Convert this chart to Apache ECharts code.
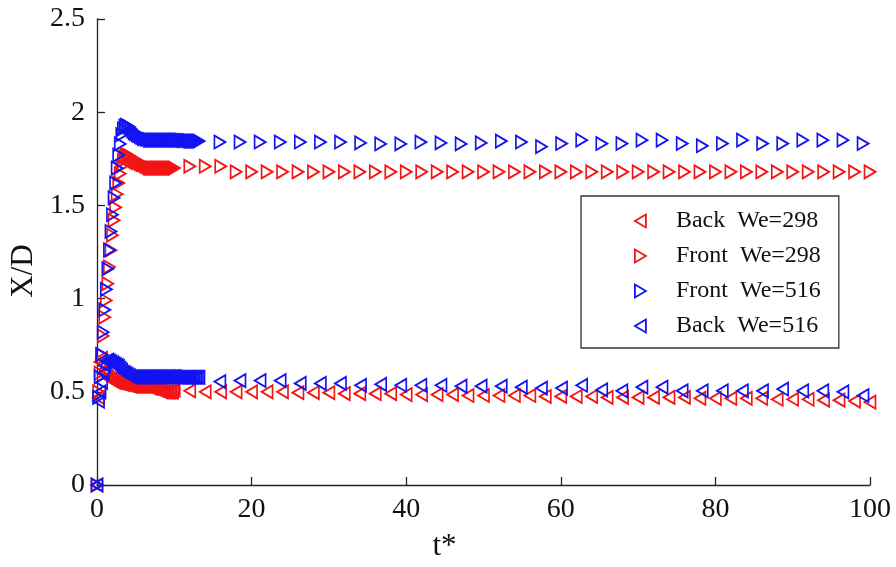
<!DOCTYPE html>
<html>
<head>
<meta charset="utf-8">
<script src="https://cdn.jsdelivr.net/npm/echarts@6/dist/echarts.min.js"></script>
<style>
  html, body { margin: 0; padding: 0; background: #fff; }
  #chart { width: 896px; height: 567px; }
</style>
</head>
<body>
<div id="chart"></div>
<script>
// Time stamps (t*) for the We=298 runs: fine sampling early, then every 2 units
const tRed = [
  0, 0.2, 0.4, 0.6, 0.8, 1, 1.2, 1.4, 1.6, 1.8, 2, 2.2, 2.4, 2.6, 2.8, 3, 3.2, 3.4, 3.6, 3.8,
  4, 4.2, 4.4, 4.6, 4.8, 5, 5.2, 5.4, 5.6, 5.8, 6, 6.2, 6.4, 6.6, 6.8, 7, 7.2, 7.4, 7.6, 7.8,
  8, 8.2, 8.4, 8.6, 8.8, 9, 9.2, 9.4, 9.6, 9.8,
  10, 12, 14, 16, 18, 20, 22, 24, 26, 28, 30, 32, 34, 36, 38, 40, 42, 44, 46, 48,
  50, 52, 54, 56, 58, 60, 62, 64, 66, 68, 70, 72, 74, 76, 78, 80, 82, 84, 86, 88,
  90, 92, 94, 96, 98, 100
];

// Back edge position, We=298
const backWe298 = [
  0, 0.47, 0.66, 0.68, 0.65, 0.62, 0.60, 0.58, 0.57, 0.565, 0.56, 0.555, 0.55, 0.55, 0.55, 0.545, 0.545, 0.54, 0.54, 0.54,
  0.535, 0.535, 0.53, 0.53, 0.53, 0.53, 0.53, 0.53, 0.53, 0.53, 0.53, 0.53, 0.53, 0.53, 0.525, 0.52, 0.52, 0.52, 0.515, 0.51,
  0.51, 0.505, 0.50, 0.50, 0.50, 0.50, 0.50, 0.50, 0.50, 0.50,
  0.51, 0.505, 0.50, 0.50, 0.50, 0.50, 0.50, 0.50, 0.495, 0.495, 0.495, 0.49, 0.49, 0.49, 0.49, 0.485, 0.485, 0.485, 0.485, 0.48,
  0.48, 0.48, 0.48, 0.48, 0.475, 0.475, 0.475, 0.475, 0.47, 0.47, 0.47, 0.47, 0.47, 0.47, 0.465, 0.465, 0.465, 0.465, 0.465, 0.46,
  0.46, 0.46, 0.455, 0.455, 0.45, 0.445
];

// Front edge position, We=298
const frontWe298 = [
  0, 0.50, 0.60, 0.70, 0.80, 0.90, 0.99, 1.08, 1.17, 1.26, 1.34, 1.42, 1.49, 1.56, 1.62, 1.67, 1.71, 1.74, 1.76, 1.77,
  1.77, 1.765, 1.76, 1.75, 1.74, 1.735, 1.73, 1.73, 1.725, 1.72, 1.72, 1.715, 1.71, 1.705, 1.70, 1.70, 1.70, 1.70, 1.70, 1.70,
  1.70, 1.70, 1.70, 1.70, 1.70, 1.70, 1.70, 1.70, 1.70, 1.70,
  1.70, 1.71, 1.71, 1.71, 1.68, 1.68, 1.68, 1.68, 1.68, 1.68, 1.68, 1.68, 1.68, 1.68, 1.68, 1.68, 1.68, 1.68, 1.68, 1.68,
  1.68, 1.68, 1.68, 1.68, 1.68, 1.68, 1.68, 1.68, 1.68, 1.68, 1.68, 1.68, 1.68, 1.68, 1.68, 1.68, 1.68, 1.68, 1.68, 1.68,
  1.68, 1.68, 1.68, 1.68, 1.68, 1.68
];

// Time stamps (t*) for the We=516 runs
const tBlue = [
  0, 0.2, 0.4, 0.6, 0.8, 1, 1.2, 1.4, 1.6, 1.8, 2, 2.2, 2.4, 2.6, 2.8, 3, 3.2, 3.4, 3.6, 3.8,
  4, 4.2, 4.4, 4.6, 4.8, 5, 5.2, 5.4, 5.6, 5.8, 6, 6.2, 6.4, 6.6, 6.8, 7, 7.2, 7.4, 7.6, 7.8,
  8, 8.2, 8.4, 8.6, 8.8, 9, 9.2, 9.4, 9.6, 9.8, 10, 10.2, 10.4, 10.6, 10.8, 11, 11.2, 11.4, 11.6, 11.8,
  12, 12.2, 12.4, 12.6, 12.8, 13, 13.2,
  15.9, 18.5, 21.1, 23.7, 26.3, 28.9, 31.5, 34.1, 36.7, 39.3, 41.9, 44.5, 47.1, 49.7, 52.3, 54.9, 57.5,
  60.1, 62.7, 65.3, 67.9, 70.5, 73.1, 75.7, 78.3, 80.9, 83.5, 86.1, 88.7, 91.3, 93.9, 96.5, 99.1
];

// Front edge position, We=516
const frontWe516 = [
  0, 0.47, 0.58, 0.70, 0.82, 0.94, 1.05, 1.16, 1.26, 1.36, 1.45, 1.54, 1.62, 1.70, 1.77, 1.83, 1.88, 1.91, 1.925, 1.93,
  1.925, 1.92, 1.91, 1.90, 1.89, 1.885, 1.88, 1.875, 1.87, 1.865, 1.86, 1.86, 1.855, 1.855, 1.85, 1.85, 1.85, 1.85, 1.85, 1.85,
  1.85, 1.85, 1.85, 1.85, 1.85, 1.85, 1.85, 1.85, 1.85, 1.85, 1.85, 1.85, 1.85, 1.85, 1.85, 1.848, 1.848, 1.848, 1.848, 1.848,
  1.845, 1.845, 1.845, 1.845, 1.845, 1.845, 1.845,
  1.84, 1.84, 1.84, 1.84, 1.84, 1.84, 1.84, 1.835, 1.83, 1.83, 1.84, 1.835, 1.83, 1.835, 1.845, 1.84, 1.815,
  1.832, 1.85, 1.832, 1.832, 1.85, 1.85, 1.832, 1.82, 1.832, 1.85, 1.832, 1.832, 1.85, 1.85, 1.85, 1.832
];

// Back edge position, We=516
const backWe516 = [
  0, 0.45, 0.50, 0.55, 0.60, 0.64, 0.665, 0.67, 0.665, 0.66, 0.655, 0.65, 0.645, 0.64, 0.635, 0.625, 0.615, 0.605, 0.60, 0.595,
  0.59, 0.585, 0.58, 0.58, 0.58, 0.58, 0.58, 0.58, 0.58, 0.58, 0.58, 0.58, 0.58, 0.58, 0.58, 0.58, 0.58, 0.58, 0.58, 0.58,
  0.58, 0.58, 0.58, 0.58, 0.58, 0.58, 0.58, 0.58, 0.58, 0.58, 0.58, 0.58, 0.578, 0.578, 0.578, 0.578, 0.578, 0.578, 0.578, 0.578,
  0.578, 0.578, 0.578, 0.578, 0.578, 0.578, 0.578,
  0.555, 0.56, 0.56, 0.56, 0.545, 0.545, 0.545, 0.535, 0.54, 0.535, 0.535, 0.535, 0.53, 0.53, 0.53, 0.525, 0.52,
  0.52, 0.535, 0.51, 0.505, 0.525, 0.525, 0.505, 0.505, 0.505, 0.505, 0.505, 0.515, 0.505, 0.505, 0.50, 0.48
];

const seriesNames = ['Back  We=298', 'Front  We=298', 'Front  We=516', 'Back  We=516'];
const xTicks = { min: 0, max: 100, step: 20 };
const yTicks = { min: 0, max: 2.5, step: 0.5 };

const RED = '#f21515';
const BLUE = '#1414f2';
const FONT = '"Liberation Serif", "Times New Roman", serif';

// Outline triangles pointing left (back edge) or right (front edge)
const ICON_LEFT = 'path://M11,0 L0,6.5 L11,13 Z';
const ICON_RIGHT = 'path://M0,0 L11,6.5 L0,13 Z';

function pairs(t, v) {
  return v.map((y, i) => [t[i], y]);
}

function outline(color) {
  return { color: 'rgba(0,0,0,0)', borderColor: color, borderWidth: 1.8, opacity: 1 };
}

function markerSeries(name, data, color, rotate) {
  return {
    name: name,
    type: 'scatter',
    data: data,
    symbol: 'triangle',
    symbolSize: [13, 11],
    symbolRotate: rotate,
    clip: false,
    itemStyle: outline(color),
    emphasis: { disabled: true },
    animation: false
  };
}

const chart = echarts.init(document.getElementById('chart'), null, { renderer: 'canvas' });

const axisCommon = {
  type: 'value',
  nameLocation: 'middle',
  axisLine: { show: true, onZero: false, lineStyle: { color: '#222', width: 1.3 } },
  axisTick: { show: true, inside: true, length: 8, lineStyle: { color: '#222', width: 1.3 } },
  axisLabel: { fontFamily: FONT, fontSize: 28, color: '#111' },
  splitLine: { show: false }
};

chart.setOption({
  backgroundColor: '#ffffff',
  animation: false,
  grid: { left: 97, right: 26, top: 19, bottom: 80, containLabel: false },
  xAxis: Object.assign({}, axisCommon, {
    min: xTicks.min, max: xTicks.max, interval: xTicks.step,
    name: 't*', nameGap: 46,
    nameTextStyle: { fontFamily: FONT, fontSize: 31, color: '#111', padding: [0, 78, 0, 0] },
    axisLabel: Object.assign({}, axisCommon.axisLabel, { margin: 11 })
  }),
  yAxis: Object.assign({}, axisCommon, {
    min: yTicks.min, max: yTicks.max, interval: yTicks.step,
    name: 'X/D', nameGap: 55,
    nameTextStyle: { fontFamily: FONT, fontSize: 31, color: '#111', padding: [0, 38, 0, 0] },
    axisLabel: Object.assign({}, axisCommon.axisLabel, { margin: 12 })
  }),
  legend: {
    orient: 'vertical',
    left: 581,
    top: 196,
    padding: [13, 18, 10, 53],
    itemWidth: 11,
    itemHeight: 13,
    itemGap: 11,
    symbolRotate: 0,
    borderColor: '#333',
    borderWidth: 1.3,
    backgroundColor: '#fff',
    selectedMode: false,
    textStyle: { fontFamily: FONT, fontSize: 24, color: '#111', padding: [0, 0, 0, 25] },
    data: [
      { name: seriesNames[0], icon: ICON_LEFT, itemStyle: outline(RED) },
      { name: seriesNames[1], icon: ICON_RIGHT, itemStyle: outline(RED) },
      { name: seriesNames[2], icon: ICON_RIGHT, itemStyle: outline(BLUE) },
      { name: seriesNames[3], icon: ICON_LEFT, itemStyle: outline(BLUE) }
    ]
  },
  series: [
    markerSeries(seriesNames[0], pairs(tRed, backWe298), RED, 90),
    markerSeries(seriesNames[1], pairs(tRed, frontWe298), RED, -90),
    markerSeries(seriesNames[2], pairs(tBlue, frontWe516), BLUE, -90),
    markerSeries(seriesNames[3], pairs(tBlue, backWe516), BLUE, 90)
  ]
});
</script>
</body>
</html>
